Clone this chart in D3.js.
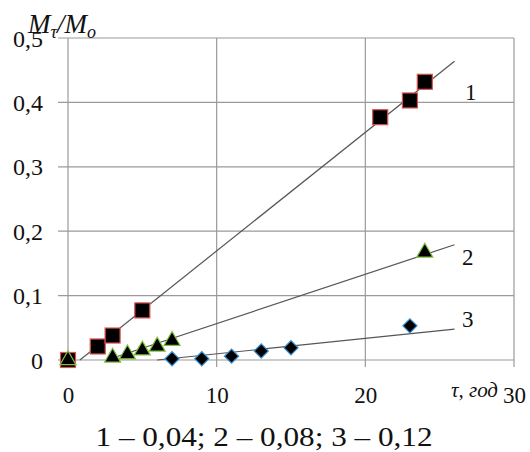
<!DOCTYPE html>
<html>
<head>
<meta charset="utf-8">
<script src="https://cdn.jsdelivr.net/npm/d3@7"></script>
<style>
  body { margin: 0; background: #fff; }
</style>
</head>
<body>
<div id="chart"></div>
<script>
// data
var xTicks = [0, 10, 20, 30];
var yTicks = [0, 0.1, 0.2, 0.3, 0.4, 0.5];

var s1x = [0, 2, 3, 5, 21, 23, 24];
var s1y = [0, 0.021, 0.038, 0.077, 0.377, 0.403, 0.432];

var s2x = [0, 3, 4, 5, 6, 7, 24];
var s2y = [0, 0.004, 0.009, 0.015, 0.021, 0.030, 0.167];

var s3x = [7, 9, 11, 13, 15, 23];
var s3y = [0.002, 0.002, 0.006, 0.014, 0.019, 0.053];

// trend lines, endpoints as read
var trend1 = [[0.8, 0], [26, 0.464]];
var trend2 = [[2.6, 0], [26, 0.179]];
var trend3 = [[6, 0], [26, 0.048]];

var seriesLabels = ["1", "2", "3"];
var caption = "1 – 0,04; 2 – 0,08; 3 – 0,12";

var serif = "'Liberation Serif', 'DejaVu Serif', serif";

var margin = {top: 38, right: 16, bottom: 92, left: 68},
    width = 530 - margin.left - margin.right,
    height = 452 - margin.top - margin.bottom;

var svg = d3.select("#chart")
    .append("svg")
    .attr("width", 530)
    .attr("height", 452)
    .append("g")
    .attr("transform", "translate(" + margin.left + "," + margin.top + ")");

var x = d3.scaleLinear().domain([0, 30]).range([0, width]);
var y = d3.scaleLinear().domain([0, 0.5]).range([height, 0]);

var fmt = d3.formatLocale({decimal: ",", thousands: " ", grouping: [3], currency: ["", ""]}).format(".1f");

// grid
svg.append("g").selectAll("line.gy")
    .data(yTicks).enter().append("line")
    .attr("x1", -10).attr("x2", width)
    .attr("y1", function(d) { return y(d); })
    .attr("y2", function(d) { return y(d); })
    .attr("stroke", "#9a9a9a").attr("stroke-width", 1.2);

svg.append("g").selectAll("line.gx")
    .data(xTicks).enter().append("line")
    .attr("x1", function(d) { return x(d); })
    .attr("x2", function(d) { return x(d); })
    .attr("y1", 0).attr("y2", height + 7)
    .attr("stroke", "#9a9a9a").attr("stroke-width", 1.2);

// axes labels
var yAxis = svg.append("g")
    .call(d3.axisLeft(y).tickValues(yTicks).tickSize(0).tickPadding(25)
        .tickFormat(function(d) { return d === 0 ? "0" : fmt(d); }));
yAxis.select(".domain").remove();
yAxis.attr("font-family", null).attr("font-size", null);
yAxis.selectAll("text").style("font-size", "24px").style("font-family", serif)
    .style("fill", "#111").attr("dy", "0.34em");

var xAxis = svg.append("g")
    .attr("transform", "translate(0," + height + ")")
    .call(d3.axisBottom(x).tickValues(xTicks).tickSize(0).tickPadding(27));
xAxis.select(".domain").remove();
xAxis.attr("font-family", null).attr("font-size", null);
xAxis.selectAll("text").style("font-size", "23px").style("font-family", serif).style("fill", "#111");

// trend lines
var line = d3.line().x(function(d) { return x(d[0]); }).y(function(d) { return y(d[1]); });
[trend1, trend2, trend3].forEach(function(t) {
    svg.append("path").attr("d", line(t))
        .attr("fill", "none").attr("stroke", "#555").attr("stroke-width", 1.2);
});

function pts(xs, ys) { return xs.map(function(v, i) { return [v, ys[i]]; }); }

// series 1: squares
svg.append("g").selectAll("rect")
    .data(pts(s1x, s1y)).enter().append("rect")
    .attr("x", function(d) { return x(d[0]) - 7.5; })
    .attr("y", function(d) { return y(d[1]) - 7.5; })
    .attr("width", 15).attr("height", 15)
    .attr("fill", "#000").attr("stroke", "#e05050").attr("stroke-width", 1.2);

// series 2: triangles
svg.append("g").selectAll("path.tri")
    .data(pts(s2x, s2y)).enter().append("path")
    .attr("transform", function(d) { return "translate(" + x(d[0]) + "," + y(d[1]) + ")"; })
    .attr("d", d3.symbol().type(d3.symbolTriangle).size(110))
    .attr("fill", "#000").attr("stroke", "#7fbf3f").attr("stroke-width", 1.2);

// series 3: diamonds
svg.append("g").selectAll("path.dia")
    .data(pts(s3x, s3y)).enter().append("path")
    .attr("transform", function(d) { return "translate(" + x(d[0]) + "," + y(d[1]) + ") rotate(45)"; })
    .attr("d", d3.symbol().type(d3.symbolSquare).size(100))
    .attr("fill", "#000").attr("stroke", "#3a8fd0").attr("stroke-width", 1.2);

// series labels
var labelPos = [[26.7, 0.404], [26.5, 0.147], [26.5, 0.051]];
svg.append("g").selectAll("text")
    .data(seriesLabels).enter().append("text")
    .attr("x", function(d, i) { return x(labelPos[i][0]); })
    .attr("y", function(d, i) { return y(labelPos[i][1]); })
    .style("font-size", "23px").style("font-family", serif).style("fill", "#111")
    .text(function(d) { return d; });

// axis titles
var yt = svg.append("text")
    .attr("x", -40).attr("y", -5)
    .style("font-size", "27px").style("font-style", "italic")
    .style("font-family", serif).style("fill", "#111");
yt.append("tspan").text("M");
yt.append("tspan").attr("dy", 5).style("font-size", "18px").text("τ");
yt.append("tspan").attr("dy", -5).text("/M");
yt.append("tspan").attr("dy", 5).style("font-size", "18px").text("o");

svg.append("text")
    .attr("x", x(30) - 16).attr("y", height + 37)
    .attr("text-anchor", "end")
    .style("font-size", "21px").style("font-style", "italic")
    .style("font-family", serif).style("fill", "#111")
    .text("τ, год");

svg.append("text")
    .attr("x", 264 - margin.left).attr("y", height + 86)
    .attr("text-anchor", "middle")
    .attr("textLength", 337).attr("lengthAdjust", "spacingAndGlyphs")
    .style("font-size", "28px").style("font-family", serif).style("fill", "#111")
    .text(caption);
</script>
</body>
</html>
